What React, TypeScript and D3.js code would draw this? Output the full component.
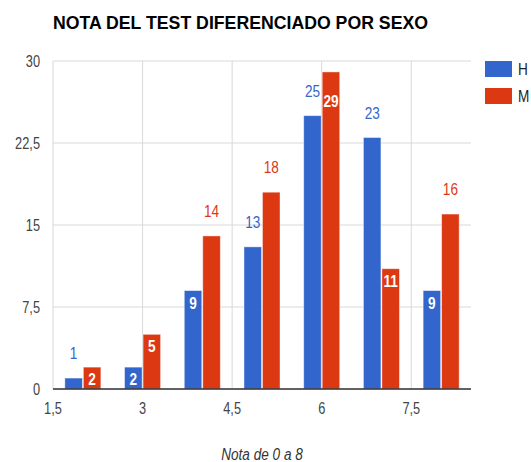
import * as d3 from 'd3';

const grades = [2, 3, 4, 5, 6, 7, 8];
const hombres = [1, 2, 9, 13, 25, 23, 9];
const mujeres = [2, 5, 14, 18, 29, 11, 16];
// whether google placed the annotation inside the bar
const hInside = [false, true, true, false, false, false, true];
const mInside = [true, true, false, false, true, true, false];
const yTicks = [0, 7.5, 15, 22.5, 30];
const xTicks = [1.5, 3, 4.5, 6, 7.5];

const BLUE = '#3366cc';
const RED = '#dc3912';
const FONT = '"Liberation Sans", Arial, sans-serif';
const SQUEEZE = 0.8; // reference text looks horizontally condensed

const fmt = (v: number) => String(v).replace('.', ',');

// text drawn condensed, like the narrow glyphs of the original
function NText({ x, y, children, ...rest }: any) {
  return (
    <text transform={`translate(${x},${y}) scale(${SQUEEZE},1)`} {...rest}>
      {children}
    </text>
  );
}

export default function App() {
  const width = 531;
  const height = 462;
  const x = d3.scaleLinear().domain([1.5, 8.5]).range([53, 471]);
  const y = d3.scaleLinear().domain([0, 30]).range([389, 61]);
  const barW = 17.5;

  const series = [
    { name: 'H', values: hombres, inside: hInside, color: BLUE, dx: -barW - 0.5 },
    { name: 'M', values: mujeres, inside: mInside, color: RED, dx: 0.5 },
  ];

  // label baselines, with a nudge when an inside label hits the neighbour's outside label
  const labelY = (si: number, i: number) => {
    const s = series[si];
    const v = s.values[i];
    if (!s.inside[i]) return y(v) - 19;
    let base = y(v) + 18;
    const other = series[1 - si];
    if (!other.inside[i]) {
      const ob = y(other.values[i]) - 19;
      if (Math.abs(ob - base) < 14) base = ob + 10;
    }
    return base;
  };

  return (
    <svg width={width} height={height} style={{ position: 'absolute', left: 0, top: 0, background: '#fff' }} fontFamily={FONT}>
      <text x={53} y={29} fontSize={19} fontWeight="bold" fill="#000" textLength={375} lengthAdjust="spacingAndGlyphs">
        NOTA DEL TEST DIFERENCIADO POR SEXO
      </text>

      {/* grid */}
      {yTicks.map((t) => (
        <g key={'y' + t}>
          <line x1={53} x2={471} y1={y(t)} y2={y(t)} stroke="#d9d9d9" strokeWidth={1} />
          <NText x={40} y={y(t) + 6} textAnchor="end" fontSize={16} fill="#444">
            {fmt(t)}
          </NText>
        </g>
      ))}
      {xTicks.map((t) => (
        <g key={'x' + t}>
          <line x1={x(t)} x2={x(t)} y1={61} y2={389} stroke="#d9d9d9" strokeWidth={1} />
          <NText x={x(t)} y={414} textAnchor="middle" fontSize={16} fill="#444">
            {fmt(t)}
          </NText>
        </g>
      ))}

      {/* bars */}
      {series.map((s) =>
        grades.map((g, i) => (
          <rect
            key={s.name + g}
            x={x(g) + s.dx}
            y={y(s.values[i])}
            width={barW}
            height={y(0) - y(s.values[i])}
            fill={s.color}
            stroke="#fff"
            strokeOpacity={0.5}
            strokeWidth={0.8}
          />
        ))
      )}

      <line x1={53} x2={471} y1={389} y2={389} stroke="#333" strokeWidth={1.5} />

      {/* annotations */}
      {series.map((s, si) =>
        grades.map((g, i) => {
          const inside = s.inside[i];
          return (
            <NText
              key={'l' + s.name + g}
              x={x(g) + s.dx + barW / 2}
              y={labelY(si, i)}
              textAnchor="middle"
              fontSize={17}
              fontWeight={inside ? 'bold' : 'normal'}
              fill={inside ? '#fff' : s.color}
            >
              {s.values[i]}
            </NText>
          );
        })
      )}

      {/* legend */}
      {series.map((s, si) => (
        <g key={'lg' + s.name} transform={`translate(485,${61 + si * 27})`}>
          <rect width={27} height={16} fill={s.color} />
          <NText x={33} y={14} fontSize={17} fill="#222">
            {s.name}
          </NText>
        </g>
      ))}

      <NText x={262} y={460} textAnchor="middle" fontSize={17} fontStyle="italic" fill="#333">
        Nota de 0 a 8
      </NText>
    </svg>
  );
}
